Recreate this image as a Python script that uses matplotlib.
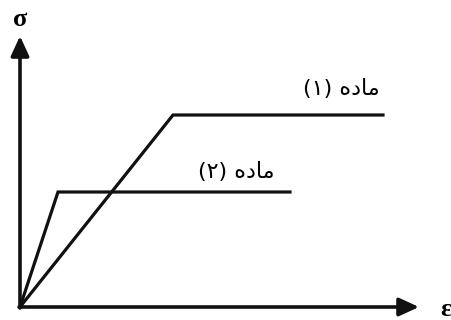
import matplotlib
matplotlib.use('Agg')
import matplotlib.pyplot as plt

# strain / stress points (arbitrary units, origin at 0,0)
strain_1 = [0, 153, 363]
stress_1 = [0, 192, 192]
strain_2 = [0, 38, 270]
stress_2 = [0, 115, 115]
label_1 = 'ماده (۱)'
label_2 = 'ماده (۲)'
axis_len_x = 399
axis_len_y = 271

# small shaper for the few arabic letters used (matplotlib does no shaping)
# letter: (isolated, final, initial, medial, joins_left)
forms = {
    'م': ('\uFEE1', '\uFEE2', '\uFEE3', '\uFEE4', True),
    'ا': ('\uFE8D', '\uFE8E', '\uFE8D', '\uFE8E', False),
    'د': ('\uFEA9', '\uFEAA', '\uFEA9', '\uFEAA', False),
    'ه': ('\uFEE9', '\uFEEA', '\uFEEB', '\uFEEC', True),
}
mirror = {'(': ')', ')': '('}

def shape(s):
    out = []
    for i, ch in enumerate(s):
        if ch not in forms:
            out.append(mirror.get(ch, ch))
            continue
        prev = s[i - 1] if i > 0 else ''
        nxt = s[i + 1] if i + 1 < len(s) else ''
        jr = prev in forms and forms[prev][4]
        jl = forms[ch][4] and nxt in forms
        iso, fin, ini, med, _ = forms[ch]
        if jr and jl:
            out.append(med)
        elif jr:
            out.append(fin)
        elif jl:
            out.append(ini)
        else:
            out.append(iso)
    return ''.join(out)[::-1]

fig = plt.figure(figsize=(4.52, 3.2), dpi=100)
ax = fig.add_axes([20 / 452, 13 / 320, 432 / 452, 307 / 320])
ax.set_xlim(0, 432)
ax.set_ylim(0, 307)
ax.axis('off')

ax.plot(strain_1, stress_1, color='#111111', lw=2.3, solid_joinstyle='miter')
ax.plot(strain_2, stress_2, color='#111111', lw=2.3, solid_joinstyle='miter')

arrow = dict(arrowstyle='-|>,head_length=1.2,head_width=0.55', lw=2.6,
             color='#111111', shrinkA=0, shrinkB=0)
ax.annotate('', xy=(axis_len_x, 0), xytext=(-1, 0), arrowprops=arrow)
ax.annotate('', xy=(0, axis_len_y), xytext=(0, -1), arrowprops=arrow)

ax.text(0, 287, 'σ', fontsize=19, family='Liberation Serif', weight='bold',
        ha='center', va='center')
ax.text(426, -2, 'ε', fontsize=19, family='Liberation Serif', weight='bold',
        ha='center', va='center')

ax.text(strain_1[2] - 3, stress_1[1] + 26, shape(label_1), fontsize=16,
        family='DejaVu Sans', ha='right', va='center')
ax.text(strain_2[2] - 15, stress_2[1] + 20, shape(label_2), fontsize=16,
        family='DejaVu Sans', ha='right', va='center')

fig.savefig('out.png', dpi=100)
